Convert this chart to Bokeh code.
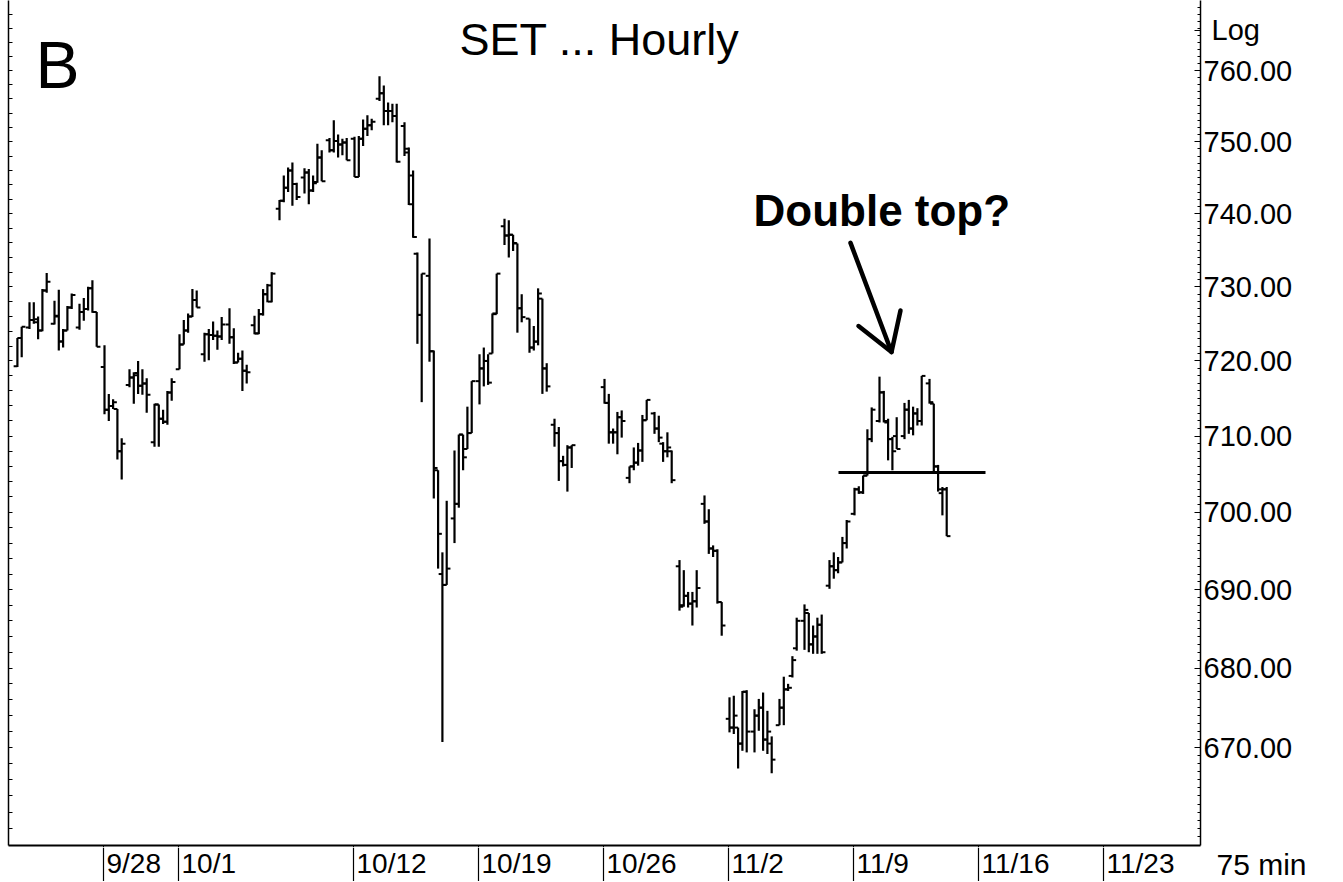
import numpy as np
from bokeh.plotting import figure
from bokeh.layouts import column
from bokeh.models import (Range1d, FixedTicker, LogAxis, LinearAxis,
                          PrintfTickFormatter, CustomJSTickFormatter, ColumnDataSource)
from bokeh.core.properties import value
from bokeh.embed import file_html
from bokeh.resources import INLINE

# ---------------- data (SET index, 75-minute bars) ----------------
session_dates = [
    "2009-09-22", "2009-09-23", "2009-09-24", "2009-09-25",
    "2009-09-28", "2009-09-29", "2009-09-30", "2009-10-01", "2009-10-02",
    "2009-10-05", "2009-10-06", "2009-10-07", "2009-10-08", "2009-10-09",
    "2009-10-12", "2009-10-13", "2009-10-14", "2009-10-15", "2009-10-16",
    "2009-10-19", "2009-10-20", "2009-10-21", "2009-10-22",
    "2009-10-26", "2009-10-27", "2009-10-28", "2009-10-29", "2009-10-30",
    "2009-11-02", "2009-11-03", "2009-11-04", "2009-11-05", "2009-11-06",
    "2009-11-09", "2009-11-10", "2009-11-11", "2009-11-12",
]
bars_per_session = [2] + [5] * 36

opens = [
    719.3, 723.1,
    724.5, 725.5, 725.6, 724.1, 729.5,
    725.0, 726.1, 722.6, 724.1, 727.2,
    724.5, 726.6, 727.0, 729.8, 726.6,
    719.2, 713.5, 714.0, 713.6, 708.0,
    716.8, 717.8, 718.4, 716.7, 717.0,
    709.2, 714.2, 712.3, 711.9, 715.8,
    718.9, 722.2, 724.1, 726.0, 728.2,
    720.9, 723.6, 723.5, 723.4, 723.3,
    724.9, 723.2, 719.8, 720.3, 718.7,
    724.8, 723.7, 726.3, 729.0, 728.0,
    740.7, 741.8, 743.6, 746.0, 744.1,
    745.0, 745.7, 743.2, 744.4, 747.8,
    750.2, 748.8, 750.1, 749.6, 749.9,
    750.4, 745.1, 750.4, 751.8, 752.3,
    756.0, 756.8, 754.3, 754.3, 753.6,
    752.2, 749.0, 745.3, 734.5, 726.2,
    731.5, 721.3, 705.5, 692.0, 690.6,
    699.2, 701.1, 710.2, 708.3, 710.4,
    717.3, 719.0, 720.0, 721.0, 726.3,
    738.3, 737.0, 737.1, 735.9, 727.1,
    725.7, 721.8, 722.6, 728.4, 719.0,
    711.5, 710.4, 706.7, 706.2, 708.5,
    716.5, 714.4, 710.5, 710.5, 712.5,
    704.5, 706.0, 706.5, 708.1, 712.1,
    713.0, 711.0, 709.0, 708.0, 708.0,
    693.0, 688.0, 689.2, 688.2, 688.5,
    701.1, 698.8, 695.3, 695.0, 688.4,
    673.6, 672.5, 672.5, 670.5, 677.0,
    672.0, 674.0, 675.0, 671.0, 670.5,
    672.8, 675.0, 677.3, 679.0, 682.5,
    686.0, 687.0, 683.0, 684.0, 685.5,
    690.5, 693.0, 692.5, 693.5, 696.0,
    699.8, 703.0, 702.6, 704.8, 709.6,
    712.0, 715.8, 711.8, 709.6, 710.0,
    710.0, 713.5, 711.0, 713.0, 712.0,
    717.0, 714.3, 706.0, 702.5, 703.0,
]
highs = [
    723.1, 724.6,
    727.9, 727.9, 726.0, 729.7, 731.9,
    728.1, 729.6, 724.3, 727.4, 729.1,
    727.7, 728.5, 730.0, 730.9, 726.6,
    722.1, 715.6, 714.9, 713.6, 709.7,
    718.9, 718.5, 720.0, 718.9, 717.7,
    714.3, 714.2, 713.5, 716.0, 717.7,
    723.6, 725.5, 726.4, 729.7, 729.5,
    723.8, 724.3, 725.3, 724.1, 725.9,
    727.1, 724.4, 721.1, 721.4, 719.5,
    726.1, 727.0, 729.7, 730.4, 732.0,
    741.9, 745.3, 746.4, 747.1, 744.3,
    746.3, 746.2, 745.3, 749.7, 748.8,
    750.5, 753.0, 751.0, 750.4, 750.5,
    750.7, 750.8, 753.1, 753.7, 753.2,
    759.2, 757.9, 755.5, 755.3, 755.3,
    752.7, 749.2, 746.0, 734.7, 731.8,
    736.6, 721.4, 705.5, 694.8, 701.5,
    708.1, 710.2, 710.2, 713.9, 717.3,
    720.9, 721.8, 720.9, 726.4, 731.8,
    739.3, 739.1, 737.1, 735.9, 729.0,
    725.7, 724.7, 729.8, 728.4, 719.7,
    712.3, 711.2, 707.4, 708.8, 708.8,
    717.6, 715.6, 711.0, 713.2, 713.4,
    706.0, 708.5, 709.1, 712.8, 714.8,
    713.2, 712.7, 709.2, 710.5, 708.1,
    693.8, 692.5, 689.7, 689.7, 692.5,
    702.2, 700.4, 695.7, 695.2, 688.4,
    676.3, 676.5, 672.5, 677.1, 677.2,
    674.8, 676.1, 676.9, 674.6, 671.4,
    676.1, 678.9, 678.0, 681.5, 686.4,
    688.1, 687.0, 685.4, 686.4, 686.8,
    693.8, 694.8, 694.2, 696.8, 699.0,
    703.2, 703.4, 704.8, 710.9, 713.8,
    717.9, 716.0, 712.3, 709.9, 712.5,
    714.4, 714.8, 713.9, 713.7, 718.0,
    717.6, 714.3, 706.2, 703.3, 703.3,
]
lows = [
    719.2, 720.5,
    724.3, 725.0, 722.9, 724.0, 729.2,
    724.9, 721.4, 721.8, 724.1, 727.0,
    724.2, 725.4, 726.8, 726.5, 721.9,
    712.9, 712.0, 713.6, 706.9, 704.3,
    716.5, 714.3, 715.6, 715.5, 713.1,
    708.6, 708.6, 711.6, 711.5, 714.7,
    718.9, 722.2, 723.8, 725.9, 727.2,
    719.9, 720.1, 722.8, 721.5, 722.8,
    722.3, 719.6, 719.8, 716.0, 717.0,
    723.6, 723.6, 726.1, 727.9, 727.9,
    739.1, 741.6, 743.0, 741.1, 741.9,
    742.8, 741.3, 743.0, 744.3, 744.5,
    748.5, 748.5, 747.8, 748.1, 747.4,
    745.1, 745.1, 749.4, 750.8, 751.6,
    755.7, 752.3, 752.3, 752.7, 747.1,
    748.0, 741.2, 736.7, 722.3, 714.5,
    719.9, 701.8, 692.7, 670.7, 690.6,
    696.0, 700.6, 705.5, 708.3, 710.4,
    714.2, 716.6, 716.8, 721.0, 726.3,
    735.7, 734.0, 734.9, 723.8, 725.2,
    721.1, 721.4, 722.1, 715.6, 715.9,
    708.6, 704.1, 706.0, 702.7, 705.8,
    714.3, 709.0, 709.0, 707.6, 709.8,
    703.8, 705.5, 706.1, 706.6, 712.1,
    710.3, 709.2, 706.6, 707.2, 703.8,
    687.3, 687.8, 687.7, 685.4, 687.7,
    698.5, 694.6, 694.2, 688.2, 684.1,
    671.9, 671.7, 667.4, 669.6, 669.4,
    669.4, 672.1, 669.6, 669.2, 666.8,
    672.8, 672.8, 677.1, 678.8, 682.2,
    682.3, 682.0, 681.8, 681.8, 681.8,
    690.1, 691.4, 692.1, 693.5, 695.3,
    699.6, 702.4, 702.4, 704.8, 709.2,
    711.8, 711.8, 706.8, 705.5, 708.3,
    709.6, 710.3, 710.1, 711.4, 711.4,
    714.3, 705.1, 702.7, 699.6, 696.9,
]
closes = [
    723.1, 724.6,
    725.5, 725.2, 724.1, 729.5, 730.7,
    726.0, 722.6, 724.1, 727.2, 728.9,
    726.6, 727.0, 729.8, 726.6, 721.9,
    713.5, 714.0, 714.5, 708.0, 709.0,
    717.8, 718.1, 716.7, 717.0, 715.5,
    714.2, 712.3, 711.9, 715.8, 717.2,
    722.2, 724.1, 726.0, 728.2, 727.2,
    723.6, 723.5, 723.4, 723.3, 724.9,
    723.2, 719.8, 720.3, 718.7, 718.5,
    723.7, 726.3, 729.0, 730.2, 731.8,
    741.8, 743.6, 746.0, 744.1, 742.3,
    745.7, 743.2, 744.2, 747.8, 744.5,
    748.8, 750.1, 749.6, 749.9, 747.4,
    745.1, 750.4, 751.8, 752.3, 752.8,
    756.8, 754.3, 754.3, 753.6, 747.2,
    748.5, 741.3, 736.8, 726.2, 731.8,
    721.3, 705.8, 697.2, 690.6, 692.7,
    701.1, 710.2, 707.2, 710.4, 717.3,
    719.0, 720.0, 717.1, 726.4, 731.8,
    737.0, 737.1, 736.0, 727.1, 725.9,
    721.8, 722.6, 729.1, 719.0, 716.6,
    710.4, 706.7, 706.2, 708.5, 708.8,
    714.4, 710.5, 710.5, 712.5, 712.0,
    706.0, 706.5, 708.1, 712.1, 714.8,
    711.0, 709.8, 708.0, 708.5, 704.2,
    687.8, 689.2, 688.2, 688.5, 690.2,
    698.8, 695.3, 695.0, 688.4, 685.4,
    672.5, 674.0, 670.5, 677.0, 672.0,
    674.0, 675.0, 671.0, 672.0, 668.5,
    675.0, 677.3, 677.5, 681.0, 686.0,
    687.4, 683.0, 684.0, 685.5, 682.0,
    693.0, 692.5, 693.5, 696.0, 698.8,
    703.0, 702.6, 704.8, 709.6, 713.5,
    715.8, 712.0, 709.6, 708.0, 708.3,
    713.5, 711.0, 713.0, 712.0, 718.0,
    714.5, 706.0, 703.0, 703.0, 696.9,
]

tick_dates = ["2009-09-28", "2009-10-01", "2009-10-12", "2009-10-19", "2009-10-26",
              "2009-11-02", "2009-11-09", "2009-11-16", "2009-11-23"]
tick_labels = ["9/28", "10/1", "10/12", "10/19", "10/26", "11/2", "11/9", "11/16", "11/23"]
price_ticks = [670, 680, 690, 700, 710, 720, 730, 740, 750, 760]
log_label_price = 765.7
interval_label = "75 min"

neckline_price = 705.2
neckline_days = [29.4, 35.28]
arrow_shaft_x = [29.88, 31.52]
arrow_shaft_y = [736.0, 721.2]
arrow_head_x = [30.2, 31.52, 31.88]
arrow_head_y = [724.7, 721.2, 726.8]

# ---------------- bars on a trading-day axis ----------------
base = np.datetime64("2009-09-28")
sess_day = np.busday_count(base, np.array(session_dates, dtype="datetime64[D]"))
xs = []
for d, n in zip(sess_day, bars_per_session):
    for k in range(5 - n, 5):
        xs.append(float(d) + 0.04 + 0.172 * k)
xs = np.array(xs)
TW = 0.15
src = ColumnDataSource(dict(x=xs, xl=xs - TW, xr=xs + TW,
                            o=opens, h=highs, l=lows, c=closes))
tick_days = [int(v) for v in np.busday_count(base, np.array(tick_dates, dtype="datetime64[D]"))]

FONT = "Liberation Sans"
W = 1340
X0, X1 = -3.8, 43.88          # frame spans page x 8 .. 1200

p = figure(width=W, height=847,
           x_range=Range1d(X0, X1), y_range=Range1d(657.9, 769.97),
           y_axis_type="log", y_axis_location="right",
           output_backend="svg", toolbar_location=None,
           min_border_left=8, min_border_top=0, min_border_right=W - 1200,
           min_border_bottom=2)
p.grid.visible = False
p.outline_line_color = None
p.background_fill_color = "white"
p.border_fill_color = "white"

p.segment(x0="x", y0="l", x1="x", y1="h", source=src, line_color="black", line_width=2.2)
p.segment(x0="xl", y0="o", x1="x", y1="o", source=src, line_color="black", line_width=2)
p.segment(x0="x", y0="c", x1="xr", y1="c", source=src, line_color="black", line_width=2)

p.line(x=neckline_days, y=[neckline_price, neckline_price], line_color="black", line_width=3)
p.line(x=arrow_shaft_x, y=arrow_shaft_y, line_color="black", line_width=4.5, line_cap="round")
p.line(x=arrow_head_x, y=arrow_head_y, line_color="black", line_width=4.5,
       line_cap="round", line_join="round")

xa = p.xaxis[0]
xa.ticker = FixedTicker(ticks=tick_days)
xa.formatter = CustomJSTickFormatter(code="return ''")
xa.major_label_text_font_size = "1px"
xa.major_label_standoff = 0
xa.major_tick_out = 2
xa.major_tick_in = 0
xa.major_tick_line_color = "black"
xa.minor_tick_line_color = None
xa.axis_line_color = "black"
xa.axis_line_width = 2

ya = p.yaxis[0]
ya.ticker = FixedTicker(ticks=price_ticks + [log_label_price], minor_ticks=list(range(659, 770)))
ya.formatter = PrintfTickFormatter(format="%.2f")
ya.major_label_overrides = {log_label_price: "\u00a0Log"}
ya.major_label_text_font = FONT
ya.major_label_text_font_size = "29px"
ya.major_label_text_color = "black"
ya.major_label_standoff = 3
ya.major_tick_in = 6
ya.major_tick_out = 0
ya.minor_tick_in = 3
ya.minor_tick_out = 0
ya.major_tick_line_color = "black"
ya.minor_tick_line_color = "black"
ya.axis_line_color = "black"
ya.axis_line_width = 1.5

la = LogAxis(ticker=FixedTicker(ticks=list(range(660, 770, 2))),
             formatter=CustomJSTickFormatter(code="return ''"),
             major_label_text_font_size="1px", major_label_standoff=0,
             major_tick_in=4, major_tick_out=0, minor_tick_line_color=None,
             major_tick_line_color="black", axis_line_color="black", axis_line_width=1.5)
p.add_layout(la, "left")

# texts inside the chart (anchored at the top of the text box)
p.text(x=[19.84], y=[768.0], text=["SET ... Hourly"], text_align="center",
       text_baseline="top", text_font=value(FONT), text_font_size="45px",
       text_color="black")
p.text(x=[-2.72], y=[766.1], text=["B"], text_align="left", text_baseline="top",
       text_font=value(FONT), text_font_size="66px", text_color="black")
p.text(x=[26.0], y=[743.8], text=["Double top?"], text_align="left",
       text_baseline="top", text_font=value(FONT), text_font_style="bold",
       text_font_size="44px", text_color="black")

# ---------------- date strip under the chart (frames are aligned) ----------------
SH = 34
strip = figure(width=W, height=SH, x_range=Range1d(X0, X1),
               y_range=Range1d(0, SH), output_backend="svg", toolbar_location=None,
               x_axis_location=None, y_axis_location=None,
               min_border_left=8, min_border_right=W - 1200, min_border_top=0,
               min_border_bottom=0)
strip.grid.visible = False
strip.outline_line_color = None
strip.background_fill_color = "white"
strip.border_fill_color = "white"
strip.segment(x0=tick_days, y0=[0] * len(tick_days), x1=tick_days, y1=[SH] * len(tick_days),
              line_color="black", line_width=1.2)
strip.text(x=tick_days, y=[SH - 0.5] * len(tick_days), text=tick_labels, x_offset=3,
           text_baseline="top", text_align="left",
           text_font=value(FONT), text_font_size="28px", text_color="black")

# "75 min" sits right of the date scale, in the strip's right border
MIN_TICK = 16
ra = LinearAxis(ticker=FixedTicker(ticks=[MIN_TICK]),
                major_label_overrides={MIN_TICK: interval_label},
                major_label_text_font=FONT, major_label_text_font_size="30px",
                major_label_text_color="black", major_label_standoff=16,
                major_tick_line_color=None, minor_tick_line_color=None,
                axis_line_color=None, major_tick_out=0, major_tick_in=0)
strip.add_layout(ra, "right")

layout = column(p, strip, spacing=0)
open("out.html", "w").write(file_html(layout, INLINE))
